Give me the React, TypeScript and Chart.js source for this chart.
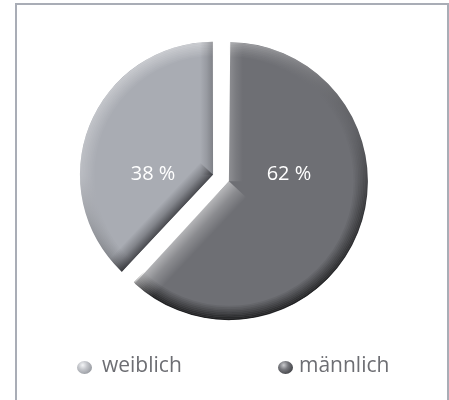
import { useEffect, useRef } from 'react';
import { Chart, registerables } from 'chart.js';

Chart.register(...registerables);

// ---- data ----
const categories = ['weiblich', 'männlich'];
const shares = [38, 62];
const valueLabels = ['38 %', '62 %'];
const sliceColors = ['#a9acb3', '#6e6f74'];

const FONT = '"Open Sans", "Noto Sans", sans-serif';

type Band = { edge: 'start' | 'end'; w: number; rgb: string; a: number };

const bandsFor: Band[][] = [
  [
    { edge: 'start', w: 18, rgb: '20,20,24', a: 0.66 },
    { edge: 'end', w: 13, rgb: '30,30,34', a: 0.3 },
  ],
  [
    { edge: 'start', w: 14, rgb: '255,255,255', a: 0.22 },
    { edge: 'end', w: 24, rgb: '255,255,255', a: 0.5 },
  ],
];

const shadePlugin = {
  id: 'sliceShade',
  afterDatasetsDraw(chart: any) {
    const ctx: CanvasRenderingContext2D = chart.ctx;
    const meta = chart.getDatasetMeta(0);
    meta.data.forEach((arc: any, i: number) => {
      const p = arc.getProps(['x', 'y', 'startAngle', 'endAngle', 'outerRadius', 'circumference'], true);
      const a = (arc.options.offset || 0) / 4;
      const mid = (p.startAngle + p.endAngle) / 2;
      const cx = p.x + Math.cos(mid) * a;
      const cy = p.y + Math.sin(mid) * a;
      const fix = 1 - Math.sin(Math.min(Math.PI, p.circumference));
      const R = p.outerRadius + a * fix;

      ctx.save();
      ctx.beginPath();
      ctx.moveTo(cx, cy);
      ctx.arc(cx, cy, R, p.startAngle, p.endAngle);
      ctx.closePath();
      ctx.clip();

      // rim lighting (light at top, dark at bottom)
      const rings = 9;
      for (let k = 0; k < rings; k++) {
        const f = 1 - k / rings;
        const g = ctx.createLinearGradient(0, cy - R, 0, cy + R);
        if (i === 1) {
          g.addColorStop(0, `rgba(255,255,255,${0.32 * f})`);
          g.addColorStop(0.3, `rgba(0,0,0,${0.12 * f})`);
          g.addColorStop(0.6, `rgba(0,0,0,${0.5 * f})`);
          g.addColorStop(1, `rgba(0,0,0,${0.72 * f})`);
        } else {
          g.addColorStop(0, `rgba(255,255,255,${0.4 * f})`);
          g.addColorStop(0.5, `rgba(255,255,255,${0.2 * f})`);
          g.addColorStop(0.8, `rgba(0,0,0,${0.2 * f})`);
          g.addColorStop(1, `rgba(0,0,0,${0.45 * f})`);
        }
        ctx.strokeStyle = g;
        ctx.lineWidth = 1.6;
        ctx.beginPath();
        ctx.arc(cx, cy, R - 0.8 - 1.6 * k, 0, Math.PI * 2);
        ctx.stroke();
      }

      // shading along the cut edges
      bandsFor[i].forEach((b) => {
        const theta = b.edge === 'start' ? p.startAngle : p.endAngle;
        const side = b.edge === 'start' ? 1 : -1;
        const ux = Math.cos(theta);
        const uy = Math.sin(theta);
        const nx = -uy * side;
        const ny = ux * side;
        const g = ctx.createLinearGradient(cx, cy, cx + nx * b.w, cy + ny * b.w);
        g.addColorStop(0, `rgba(${b.rgb},${b.a})`);
        g.addColorStop(0.5, `rgba(${b.rgb},${b.a * 0.4})`);
        g.addColorStop(1, `rgba(${b.rgb},0)`);
        ctx.fillStyle = g;
        ctx.beginPath();
        ctx.moveTo(cx, cy);
        ctx.lineTo(cx + ux * (R + 4), cy + uy * (R + 4));
        ctx.lineTo(cx + ux * (R + 4) + nx * b.w, cy + uy * (R + 4) + ny * b.w);
        ctx.lineTo(cx + nx * b.w, cy + ny * b.w);
        ctx.closePath();
        ctx.fill();
      });
      ctx.restore();

      // value label
      ctx.save();
      ctx.fillStyle = '#ffffff';
      ctx.font = `20px ${FONT}`;
      ctx.textAlign = 'center';
      ctx.textBaseline = 'alphabetic';
      ctx.fillText(valueLabels[i], p.x + Math.cos(mid) * p.outerRadius * 0.56, p.y + 2);
      ctx.restore();
    });
  },
};

const sphereBg = [
  'radial-gradient(circle at 38% 32%, #f4f5f7 0%, #c4c6cb 35%, #9a9da3 75%, #7d8086 100%)',
  'radial-gradient(circle at 38% 32%, #c9cacd 0%, #77787d 35%, #45464a 75%, #2a2b2e 100%)',
];

export default function App() {
  const canvasRef = useRef<HTMLCanvasElement | null>(null);

  useEffect(() => {
    if (!canvasRef.current) return;
    const total = shares.reduce((s, v) => s + v, 0);
    const chart = new Chart(canvasRef.current, {
      type: 'pie',
      data: {
        labels: categories,
        datasets: [
          {
            data: shares,
            backgroundColor: sliceColors,
            borderWidth: 0,
            offset: 34,
            hoverOffset: 0,
            radius: 130.5,
            rotation: (shares[1] / total) * 360,
          } as any,
        ],
      },
      options: {
        responsive: false,
        animation: false,
        events: [],
        layout: { padding: { left: 0, right: 7, top: 0, bottom: 0 } },
        plugins: {
          legend: { display: false },
          tooltip: { enabled: false },
        },
      },
      plugins: [shadePlugin],
    });
    return () => chart.destroy();
  }, []);

  const sphereLefts = [77, 278];
  const textLefts = [102, 299];

  return (
    <div
      style={{
        position: 'fixed',
        left: 0,
        top: 0,
        width: 449,
        height: 400,
        overflow: 'hidden',
        background: '#ffffff',
      }}
    >
      <div
        style={{
          position: 'absolute',
          left: 15,
          top: 3,
          width: 434,
          height: 430,
          boxSizing: 'border-box',
          border: '2px solid #a9adb6',
        }}
      />
      <canvas
        ref={canvasRef}
        width={449}
        height={356}
        style={{ position: 'absolute', left: 0, top: 0, width: 449, height: 356, display: 'block' }}
      />
      {categories.map((c, i) => (
        <div key={c}>
          <span
            style={{
              position: 'absolute',
              left: sphereLefts[i],
              top: 361,
              width: 15,
              height: 13,
              borderRadius: '50%',
              background: sphereBg[i],
            }}
          />
          <span
            style={{
              position: 'absolute',
              left: textLefts[i],
              top: 354,
              fontFamily: FONT,
              fontSize: 21,
              lineHeight: '21px',
              color: '#6d6e73',
              whiteSpace: 'nowrap',
            }}
          >
            {c}
          </span>
        </div>
      ))}
    </div>
  );
}
